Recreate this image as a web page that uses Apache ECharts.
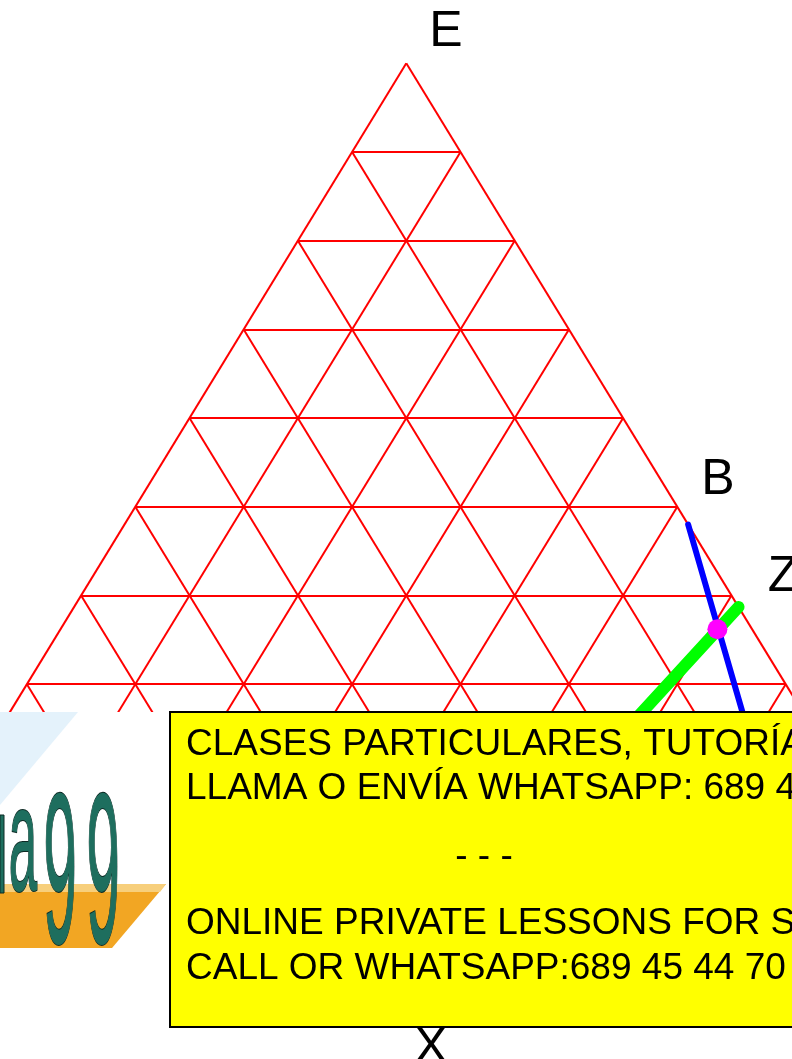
<!DOCTYPE html>
<html>
<head>
<meta charset="utf-8">
<script src="https://cdn.jsdelivr.net/npm/echarts@6/dist/echarts.min.js"></script>
<style>
  html, body { margin: 0; padding: 0; background: #fff; }
  #main { width: 792px; height: 1059px; }
</style>
</head>
<body>
<div id="main"></div>
<script>
// ternary points as [E, L, R] percentages (E = top, L = bottom left, R = bottom right)
var gridSteps = 10;
var pointB = [48, 0, 52];
var blueEnd = [10, 10, 80];
var pointZ = [38.7, 0, 61.3];
var greenEnd = [10, 35.9, 54.1];
var crossPoint = [36.2, 3.2, 60.6];
var noticeLines = [
  'CLASES PARTICULARES, TUTORÍAS TÉCNICAS ONLINE',
  'LLAMA O ENVÍA WHATSAPP: 689 45 44 70',
  '- - -',
  'ONLINE PRIVATE LESSONS FOR SCIENCE STUDENTS',
  'CALL OR WHATSAPP:689 45 44 70'
];

// ternary -> cartesian (x in half cell widths, y in rows from the top vertex)
function toXY(p) {
  return [(p[2] - p[1]) / gridSteps, (100 - p[0]) / gridSteps];
}

// grid lines of the triangle
var step = 100 / gridSteps;
var gridLines = [];
for (var j = 0; j <= gridSteps; j++) {
  var v = j * step;
  // constant E (horizontal)
  if (j < gridSteps) gridLines.push([toXY([100 - v, v, 0]), toXY([100 - v, 0, v])]);
  // constant R
  gridLines.push([toXY([100 - v, 0, v]), toXY([0, 100 - v, v])]);
  // constant L
  gridLines.push([toXY([100 - v, v, 0]), toXY([0, v, 100 - v])]);
}

var myChart = echarts.init(document.getElementById('main'));

var labelFont = '50px "Liberation Sans", Arial, sans-serif';
var boxFont = '37px "Liberation Sans", Arial, sans-serif';
var logoFill = '#1e6e5e';
var logoStroke = '#0d2a24';

option = {
  animation: false,
  grid: { left: 0, right: 0, top: 0, bottom: 0 },
  xAxis: { type: 'value', show: false, min: -7.4963, max: 7.1162 },
  yAxis: { type: 'value', show: false, inverse: true, min: -0.7136, max: 11.2255 },
  series: [
    {
      type: 'lines',
      coordinateSystem: 'cartesian2d',
      silent: true,
      z: 1,
      lineStyle: { color: '#ff0000', width: 2, opacity: 1 },
      data: gridLines.map(function (c) { return { coords: c }; })
    },
    {
      type: 'line',
      symbol: 'none',
      silent: true,
      z: 3,
      lineStyle: { color: '#0000ff', width: 6, cap: 'round' },
      data: [toXY(pointB), toXY(blueEnd)]
    },
    {
      type: 'line',
      symbol: 'none',
      silent: true,
      z: 4,
      lineStyle: { color: '#00ff00', width: 12, cap: 'round' },
      data: [toXY(pointZ), toXY(greenEnd)]
    },
    {
      type: 'scatter',
      symbolSize: 20,
      silent: true,
      z: 10,
      itemStyle: { color: '#ff00ff', opacity: 1 },
      data: [toXY(crossPoint)]
    }
  ],
  graphic: [
    { type: 'text', z: 50, x: 446, y: 32, style: { text: 'E', font: labelFont, fill: '#000', align: 'center', verticalAlign: 'middle' } },
    { type: 'text', z: 50, x: 718, y: 480, style: { text: 'B', font: labelFont, fill: '#000', align: 'center', verticalAlign: 'middle' } },
    { type: 'text', z: 50, x: 783, y: 577, style: { text: 'Z', font: labelFont, fill: '#000', align: 'center', verticalAlign: 'middle' } },
    { type: 'text', z: 50, x: 431, y: 1048, style: { text: 'X', font: labelFont, fill: '#000', align: 'center', verticalAlign: 'middle' } },

    // logo patch
    { type: 'rect', z: 60, shape: { x: 0, y: 712, width: 172, height: 347 }, style: { fill: '#ffffff' } },
    { type: 'polygon', z: 61, shape: { points: [[0, 712], [78, 712], [0, 805]] }, style: { fill: '#e4f2fb' } },
    { type: 'polygon', z: 61, shape: { points: [[0, 884], [166, 884], [112, 948], [0, 948]] }, style: { fill: '#f2a623' } },
    { type: 'polygon', z: 61, shape: { points: [[0, 884], [166, 884], [160, 892], [0, 892]] }, style: { fill: '#f7cf7c' } },
    { type: 'rect', z: 62, shape: { x: 0, y: 815, width: 4, height: 78 }, style: { fill: logoFill, stroke: logoStroke, lineWidth: 1 } },
    { type: 'text', z: 62, x: 23, y: 925, scaleX: 0.34, style: { text: 'a', font: '150px "Liberation Sans", Arial, sans-serif', fill: logoFill, stroke: logoStroke, lineWidth: 2, align: 'center', verticalAlign: 'bottom' } },
    { type: 'text', z: 62, x: 60, y: 991, scaleX: 0.28, style: { text: '9', font: '216px "Liberation Sans", Arial, sans-serif', fill: logoFill, stroke: logoStroke, lineWidth: 2, align: 'center', verticalAlign: 'bottom' } },
    { type: 'text', z: 62, x: 103, y: 991, scaleX: 0.28, style: { text: '9', font: '216px "Liberation Sans", Arial, sans-serif', fill: logoFill, stroke: logoStroke, lineWidth: 2, align: 'center', verticalAlign: 'bottom' } },

    // notice box
    { type: 'rect', z: 70, shape: { x: 170, y: 712, width: 630, height: 315 }, style: { fill: '#ffff00', stroke: '#000', lineWidth: 2 } },
    { type: 'text', z: 71, x: 186, y: 745, style: { text: noticeLines[0], font: boxFont, fill: '#000', verticalAlign: 'middle' } },
    { type: 'text', z: 71, x: 186, y: 789, style: { text: noticeLines[1], font: boxFont, fill: '#000', verticalAlign: 'middle' } },
    { type: 'text', z: 71, x: 484, y: 857, style: { text: noticeLines[2], font: boxFont, fill: '#000', align: 'center', verticalAlign: 'middle' } },
    { type: 'text', z: 71, x: 186, y: 924, style: { text: noticeLines[3], font: boxFont, fill: '#000', verticalAlign: 'middle' } },
    { type: 'text', z: 71, x: 186, y: 969, style: { text: noticeLines[4], font: boxFont, fill: '#000', verticalAlign: 'middle' } }
  ]
};

myChart.setOption(option);
</script>
</body>
</html>
